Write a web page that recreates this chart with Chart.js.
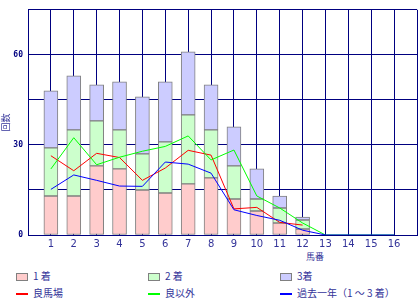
<!DOCTYPE html>
<html>
<head>
<meta charset="utf-8">
<script src="https://cdn.jsdelivr.net/npm/chart.js@4.4.1/dist/chart.umd.min.js"></script>
<style>
  body { margin: 0; background: #fff; font-family: "Noto Sans CJK JP", sans-serif; }
  #wrap { position: relative; width: 420px; height: 300px; overflow: hidden; }
  #chartBox { position: absolute; left: 0; top: 0; width: 420px; height: 250px; }
  .item { position: absolute; font-size: 10px; line-height: 14px; color: #333399; white-space: nowrap; }
  .swatch { display: inline-block; width: 10px; height: 6px; border: 1px solid #808080; vertical-align: middle; margin-right: 5px; }
  .dash { display: inline-block; width: 12px; height: 2px; vertical-align: middle; margin-right: 5px; }
  #xTitle { position: absolute; left: 306px; top: 250px; font-size: 9px; line-height: 14px; color: #333399; }
</style>
</head>
<body>
<div id="wrap">
  <div id="chartBox"><canvas id="chart"></canvas></div>
  <div id="xTitle">馬番</div>
  <div id="legend"></div>
</div>
<script>
// 馬番
const categories = ["1", "2", "3", "4", "5", "6", "7", "8", "9", "10", "11", "12", "13", "14", "15", "16"];

// stacked bars (回数)
const first  = [13, 13, 23, 22, 15, 14, 17, 19, 12, 8, 4, 2, 0, 0, 0, 0];
const second = [16, 22, 15, 13, 12, 17, 23, 16, 11, 4, 5, 3, 0, 0, 0, 0];
const third  = [19, 18, 12, 16, 19, 20, 21, 15, 13, 10, 4, 1, 0, 0, 0, 0];

// lines
const goodTrack  = [26.4, 21.4, 27.2, 25.8, 18.2, 22.3, 28.2, 26.6, 8.7, 9.2, 4.2, 3.3, null, null, null, null];
const otherTrack = [22, 32.4, 23.4, 25.9, 27.9, 29.5, 33, 25, 28.3, 13, 9, 4, 0, 0, 0, 0];
const lastYear   = [15.2, 20, 18.2, 16.3, 16.2, 24.3, 23.6, 20.6, 8.4, 6.5, 4.9, 1.6, 0, 0, 0, 0];

const yTicksShown = [0, 30, 60];

// one empty slot on each side so the grid runs from edge to edge
const pad = arr => [null, ...arr, null];
const labels = ["", ...categories, ""];

const navy = "#000080";
const textBlue = "#333399";

const barBase = { type: "bar", stack: "s", barThickness: 14, borderColor: "#808080", borderWidth: 1, borderSkipped: false, order: 3 };
const lineBase = { type: "line", borderWidth: 1, pointRadius: 0, tension: 0, fill: false };

const datasets = [
  { ...barBase, label: "1 着", data: pad(first),  backgroundColor: "#ffcccc" },
  { ...barBase, label: "2 着", data: pad(second), backgroundColor: "#ccffcc" },
  { ...barBase, label: "3着",  data: pad(third),  backgroundColor: "#ccccff" },
  { ...lineBase, label: "良馬場", data: pad(goodTrack),  borderColor: "#ff0000", order: 2, stack: "l1" },
  { ...lineBase, label: "良以外", data: pad(otherTrack), borderColor: "#00ff00", order: 1, stack: "l2" },
  { ...lineBase, label: "過去一年（1 ～ 3 着）", data: pad(lastYear), borderColor: "#0000ff", order: 0, stack: "l3" }
];

new Chart(document.getElementById("chart"), {
  type: "bar",
  data: { labels, datasets },
  options: {
    responsive: true,
    maintainAspectRatio: false,
    animation: false,
    layout: { padding: { top: 5, right: 1, left: 0, bottom: 0 } },
    plugins: { legend: { display: false }, tooltip: { enabled: false } },
    scales: {
      x: {
        stacked: true,
        offset: false,
        grid: { offset: false, color: navy, lineWidth: 1, drawTicks: false },
        border: { color: navy, width: 1 },
        ticks: { color: textBlue, font: { family: "DejaVu Sans", size: 10 }, padding: 3, autoSkip: false, maxRotation: 0 },
        afterFit: axis => { axis.height = 15; }
      },
      y: {
        stacked: true,
        min: 0,
        max: 75,
        grid: { color: navy, lineWidth: 1, drawTicks: false },
        border: { color: navy, width: 1 },
        ticks: {
          stepSize: 15,
          padding: 5,
          color: navy,
          font: { family: "DejaVu Sans Mono", size: 8, weight: "bold" },
          callback: v => yTicksShown.includes(v) ? String(v) : ""
        },
        title: { display: true, text: "回数", color: textBlue, font: { family: "Noto Sans CJK JP", size: 9 }, padding: 0 },
        afterFit: axis => { axis.width = 28; }
      }
    }
  }
});

// html legend, 3 columns x 2 rows
const colX = [16, 148, 280];
const rowTop = [269, 286];
const legend = document.getElementById("legend");
datasets.forEach((ds, i) => {
  const el = document.createElement("div");
  el.className = "item";
  el.style.left = colX[i % 3] + "px";
  el.style.top = rowTop[Math.floor(i / 3)] + "px";
  const mark = document.createElement("span");
  if (ds.type === "bar") {
    mark.className = "swatch";
    mark.style.background = ds.backgroundColor;
  } else {
    mark.className = "dash";
    mark.style.background = ds.borderColor;
  }
  el.appendChild(mark);
  el.appendChild(document.createTextNode(ds.label));
  legend.appendChild(el);
});
</script>
</body>
</html>
